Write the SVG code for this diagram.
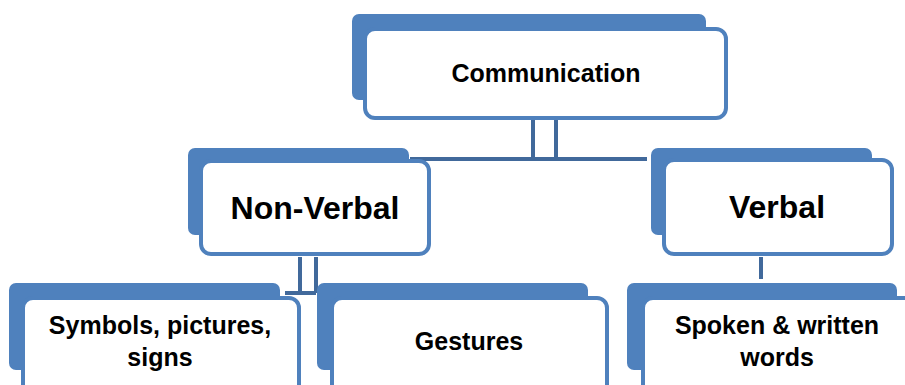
<svg xmlns="http://www.w3.org/2000/svg" width="905" height="385" viewBox="0 0 905 385">
<style>
.back{fill:#4F81BD}
.front{fill:#FFFFFF;stroke:#4F81BD;stroke-width:4}
.conn{fill:none;stroke:#41699B;stroke-width:4}
text{font-family:"Liberation Sans",Arial,sans-serif;font-weight:bold;fill:#000;text-anchor:middle}
.t1{font-size:25px}
.t2{font-size:32px}
.t3{font-size:25px}
</style>
<rect width="905" height="385" fill="#FFFFFF"/>
<g id="connectors">
<path class="conn" d="M533,119 V159 M556,119 V159 M410,159 H647"/>
<path class="conn" d="M300,257 V293 M316,257 V293 M285,293 H316"/>
<path class="conn" d="M761,257 V279"/>
</g>
<g id="communication">
<rect class="back" x="352" y="14" width="354" height="86" rx="7"/>
<rect class="front" x="365" y="29" width="361" height="89" rx="10"/>
<text class="t1" x="546" y="82">Communication</text>
</g>
<g id="non-verbal">
<rect class="back" x="188" y="148" width="221" height="87" rx="7"/>
<rect class="front" x="201" y="161" width="228" height="93" rx="10"/>
<text class="t2" x="315" y="219">Non-Verbal</text>
</g>
<g id="verbal">
<rect class="back" x="651" y="148" width="221" height="87" rx="7"/>
<rect class="front" x="664" y="160" width="228" height="94" rx="10"/>
<text class="t2" x="777" y="218">Verbal</text>
</g>
<g id="symbols">
<rect class="back" x="9" y="283" width="271" height="87" rx="7"/>
<rect class="front" x="23" y="298" width="276" height="100" rx="10"/>
<text class="t3" x="160" y="334">Symbols, pictures,</text>
<text class="t3" x="160" y="366">signs</text>
</g>
<g id="gestures">
<rect class="back" x="317" y="283" width="271" height="87" rx="7"/>
<rect class="front" x="332" y="298" width="275" height="100" rx="10"/>
<text class="t3" x="469" y="350">Gestures</text>
</g>
<g id="spoken">
<rect class="back" x="627" y="283" width="270" height="87" rx="7"/>
<rect class="front" x="643" y="298" width="275" height="100" rx="10"/>
<text class="t3" x="777" y="334">Spoken &amp; written</text>
<text class="t3" x="777" y="366">words</text>
</g>
</svg>
